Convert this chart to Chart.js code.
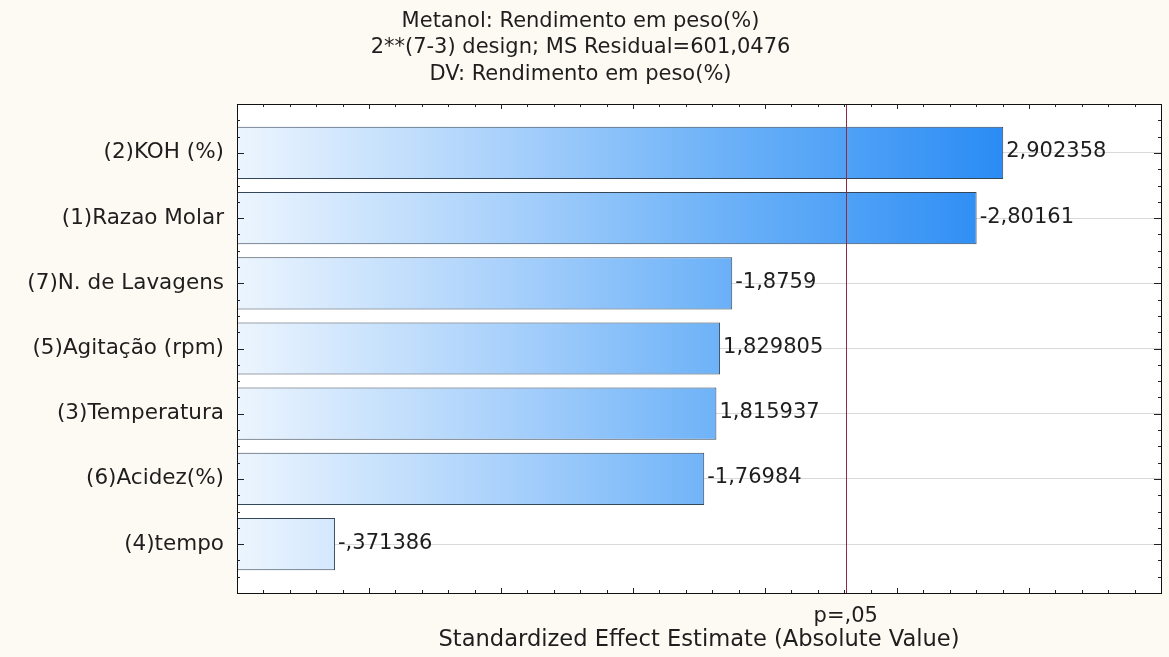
<!DOCTYPE html>
<html>
<head>
<meta charset="utf-8">
<title>Pareto Chart of Standardized Effects</title>
<script src="https://cdn.jsdelivr.net/npm/chart.js@4/dist/chart.umd.min.js"></script>
<style>
  html, body { margin: 0; padding: 0; background: #fcfaf2; }
  #wrap { width: 1169px; height: 657px; }
</style>
</head>
<body>
<div id="wrap"><canvas id="pareto"></canvas></div>
<script>
// effects sorted by absolute size (signed, as estimated)
const factors = ['(2)KOH (%)', '(1)Razao Molar', '(7)N. de Lavagens', '(5)Agitação (rpm)',
                 '(3)Temperatura', '(6)Acidez(%)', '(4)tempo'];
const effects = [2.902358, -2.80161, -1.8759, 1.829805, 1.815937, -1.76984, -0.371386];
const pCrit = 2.306004;   // t(8), alpha = .05
const pLabel = 'p=,05';
const titleLines = ['Metanol: Rendimento em peso(%)',
                    '2**(7-3) design; MS Residual=601,0476',
                    'DV: Rendimento em peso(%)'];
const xTitle = 'Standardized Effect Estimate (Absolute Value)';
const xMax = 3.5;

const FONT = 'DejaVu Sans';
const TEXT = '#1e1e1e';

// statistica-style number: comma decimal, no leading zero
function fmt(v) {
    return String(v).replace('.', ',').replace(/^(-?)0,/, '$1,');
}

const points = effects.map((e, i) => ({ x: Math.abs(e), y: i }));

function barFill(ctx) {
    const chart = ctx.chart;
    const area = chart.chartArea;
    if (!area) return '#8cc4f8';
    const x1 = chart.scales.x.getPixelForValue(Math.max(...effects.map(Math.abs)));
    const g = chart.ctx.createLinearGradient(area.left, 0, x1, 0);
    g.addColorStop(0, '#ecf5fe');
    g.addColorStop(0.35, '#a9d1fb');
    g.addColorStop(0.62, '#6fb3f8');
    g.addColorStop(1, '#2a8cf4');
    return g;
}

const paretoExtras = {
    id: 'paretoExtras',
    beforeDraw(chart) {
        const { ctx, chartArea: a } = chart;
        ctx.save();
        ctx.fillStyle = '#ffffff';
        ctx.fillRect(a.left, a.top, a.right - a.left, a.bottom - a.top);
        ctx.restore();
    },
    afterDatasetsDraw(chart) {
        const { ctx, chartArea: a, scales } = chart;
        const xs = scales.x, ys = scales.y;
        ctx.save();

        // value labels at the bar ends
        ctx.font = '21px "' + FONT + '"';
        ctx.fillStyle = TEXT;
        ctx.textBaseline = 'middle';
        ctx.textAlign = 'left';
        chart.getDatasetMeta(0).data.forEach((bar, i) => {
            ctx.fillText(fmt(effects[i]), bar.x + 3, bar.y - 1);
        });

        // critical value line
        const px = Math.round(xs.getPixelForValue(pCrit)) + 0.5;
        ctx.strokeStyle = '#8e2a44';
        ctx.lineWidth = 1;
        ctx.beginPath();
        ctx.moveTo(px, a.top);
        ctx.lineTo(px, a.bottom);
        ctx.stroke();

        // frame
        ctx.strokeStyle = '#111';
        ctx.strokeRect(Math.round(a.left) + 0.5, Math.round(a.top) + 0.5,
                       Math.round(a.right - a.left), Math.round(a.bottom - a.top));

        // inward tick marks on all four sides
        ctx.strokeStyle = '#222';
        ctx.beginPath();
        for (let k = 1; k < xMax * 10; k++) {
            const v = k / 10;
            const x = Math.round(xs.getPixelForValue(v)) + 0.5;
            const len = k % 5 === 0 ? 5 : 3;
            ctx.moveTo(x, a.bottom); ctx.lineTo(x, a.bottom - len);
            ctx.moveTo(x, a.top); ctx.lineTo(x, a.top + len);
        }
        for (let k = -2; k <= (factors.length - 1) * 4 + 2; k++) {
            const v = k / 4;
            const y = Math.round(ys.getPixelForValue(v)) + 0.5;
            const len = k % 4 === 0 ? 7 : 3;
            ctx.moveTo(a.left, y); ctx.lineTo(a.left + len, y);
            ctx.moveTo(a.right, y); ctx.lineTo(a.right - len, y);
        }
        ctx.stroke();
        ctx.restore();
    }
};

new Chart(document.getElementById('pareto'), {
    type: 'bar',
    data: {
        datasets: [{
            data: points,
            backgroundColor: barFill,
            borderColor: '#34465a',
            borderWidth: 1,
            borderSkipped: false,
            barPercentage: 0.8,
            categoryPercentage: 1
        }]
    },
    options: {
        indexAxis: 'y',
        responsive: true,
        maintainAspectRatio: false,
        animation: false,
        layout: { padding: { left: 0, right: 8, top: 0, bottom: 0 } },
        plugins: {
            legend: { display: false },
            tooltip: { enabled: false },
            title: {
                display: true,
                text: titleLines,
                color: TEXT,
                font: { family: FONT, size: 21, weight: 'normal', lineHeight: 1.262 },
                padding: { top: 8, bottom: 16.5 }
            }
        },
        scales: {
            x: {
                type: 'linear',
                min: 0,
                max: xMax,
                grid: { display: false },
                border: { display: false },
                afterBuildTicks: s => { s.ticks = [{ value: pCrit }]; },
                afterFit: s => { s.height = 64; },
                ticks: {
                    callback: () => pLabel,
                    color: TEXT,
                    font: { family: FONT, size: 21 },
                    padding: 3,
                    maxRotation: 0
                },
                title: {
                    display: true,
                    text: xTitle,
                    color: TEXT,
                    font: { family: FONT, size: 22.6, lineHeight: 1.2 },
                    padding: { top: 0, bottom: 3 }
                }
            },
            y: {
                type: 'linear',
                reverse: true,
                offset: false,
                min: -0.75,
                max: factors.length - 0.25,
                grid: { color: '#d9d9d9', drawTicks: false, offset: false },
                border: { display: false },
                afterBuildTicks: s => { s.ticks = factors.map((f, i) => ({ value: i })); },
                afterFit: s => { s.width = 237; },
                ticks: {
                    callback: v => factors[v],
                    color: TEXT,
                    font: { family: FONT, size: 21.5 },
                    padding: 13
                }
            }
        }
    },
    plugins: [paretoExtras]
});
</script>
</body>
</html>
